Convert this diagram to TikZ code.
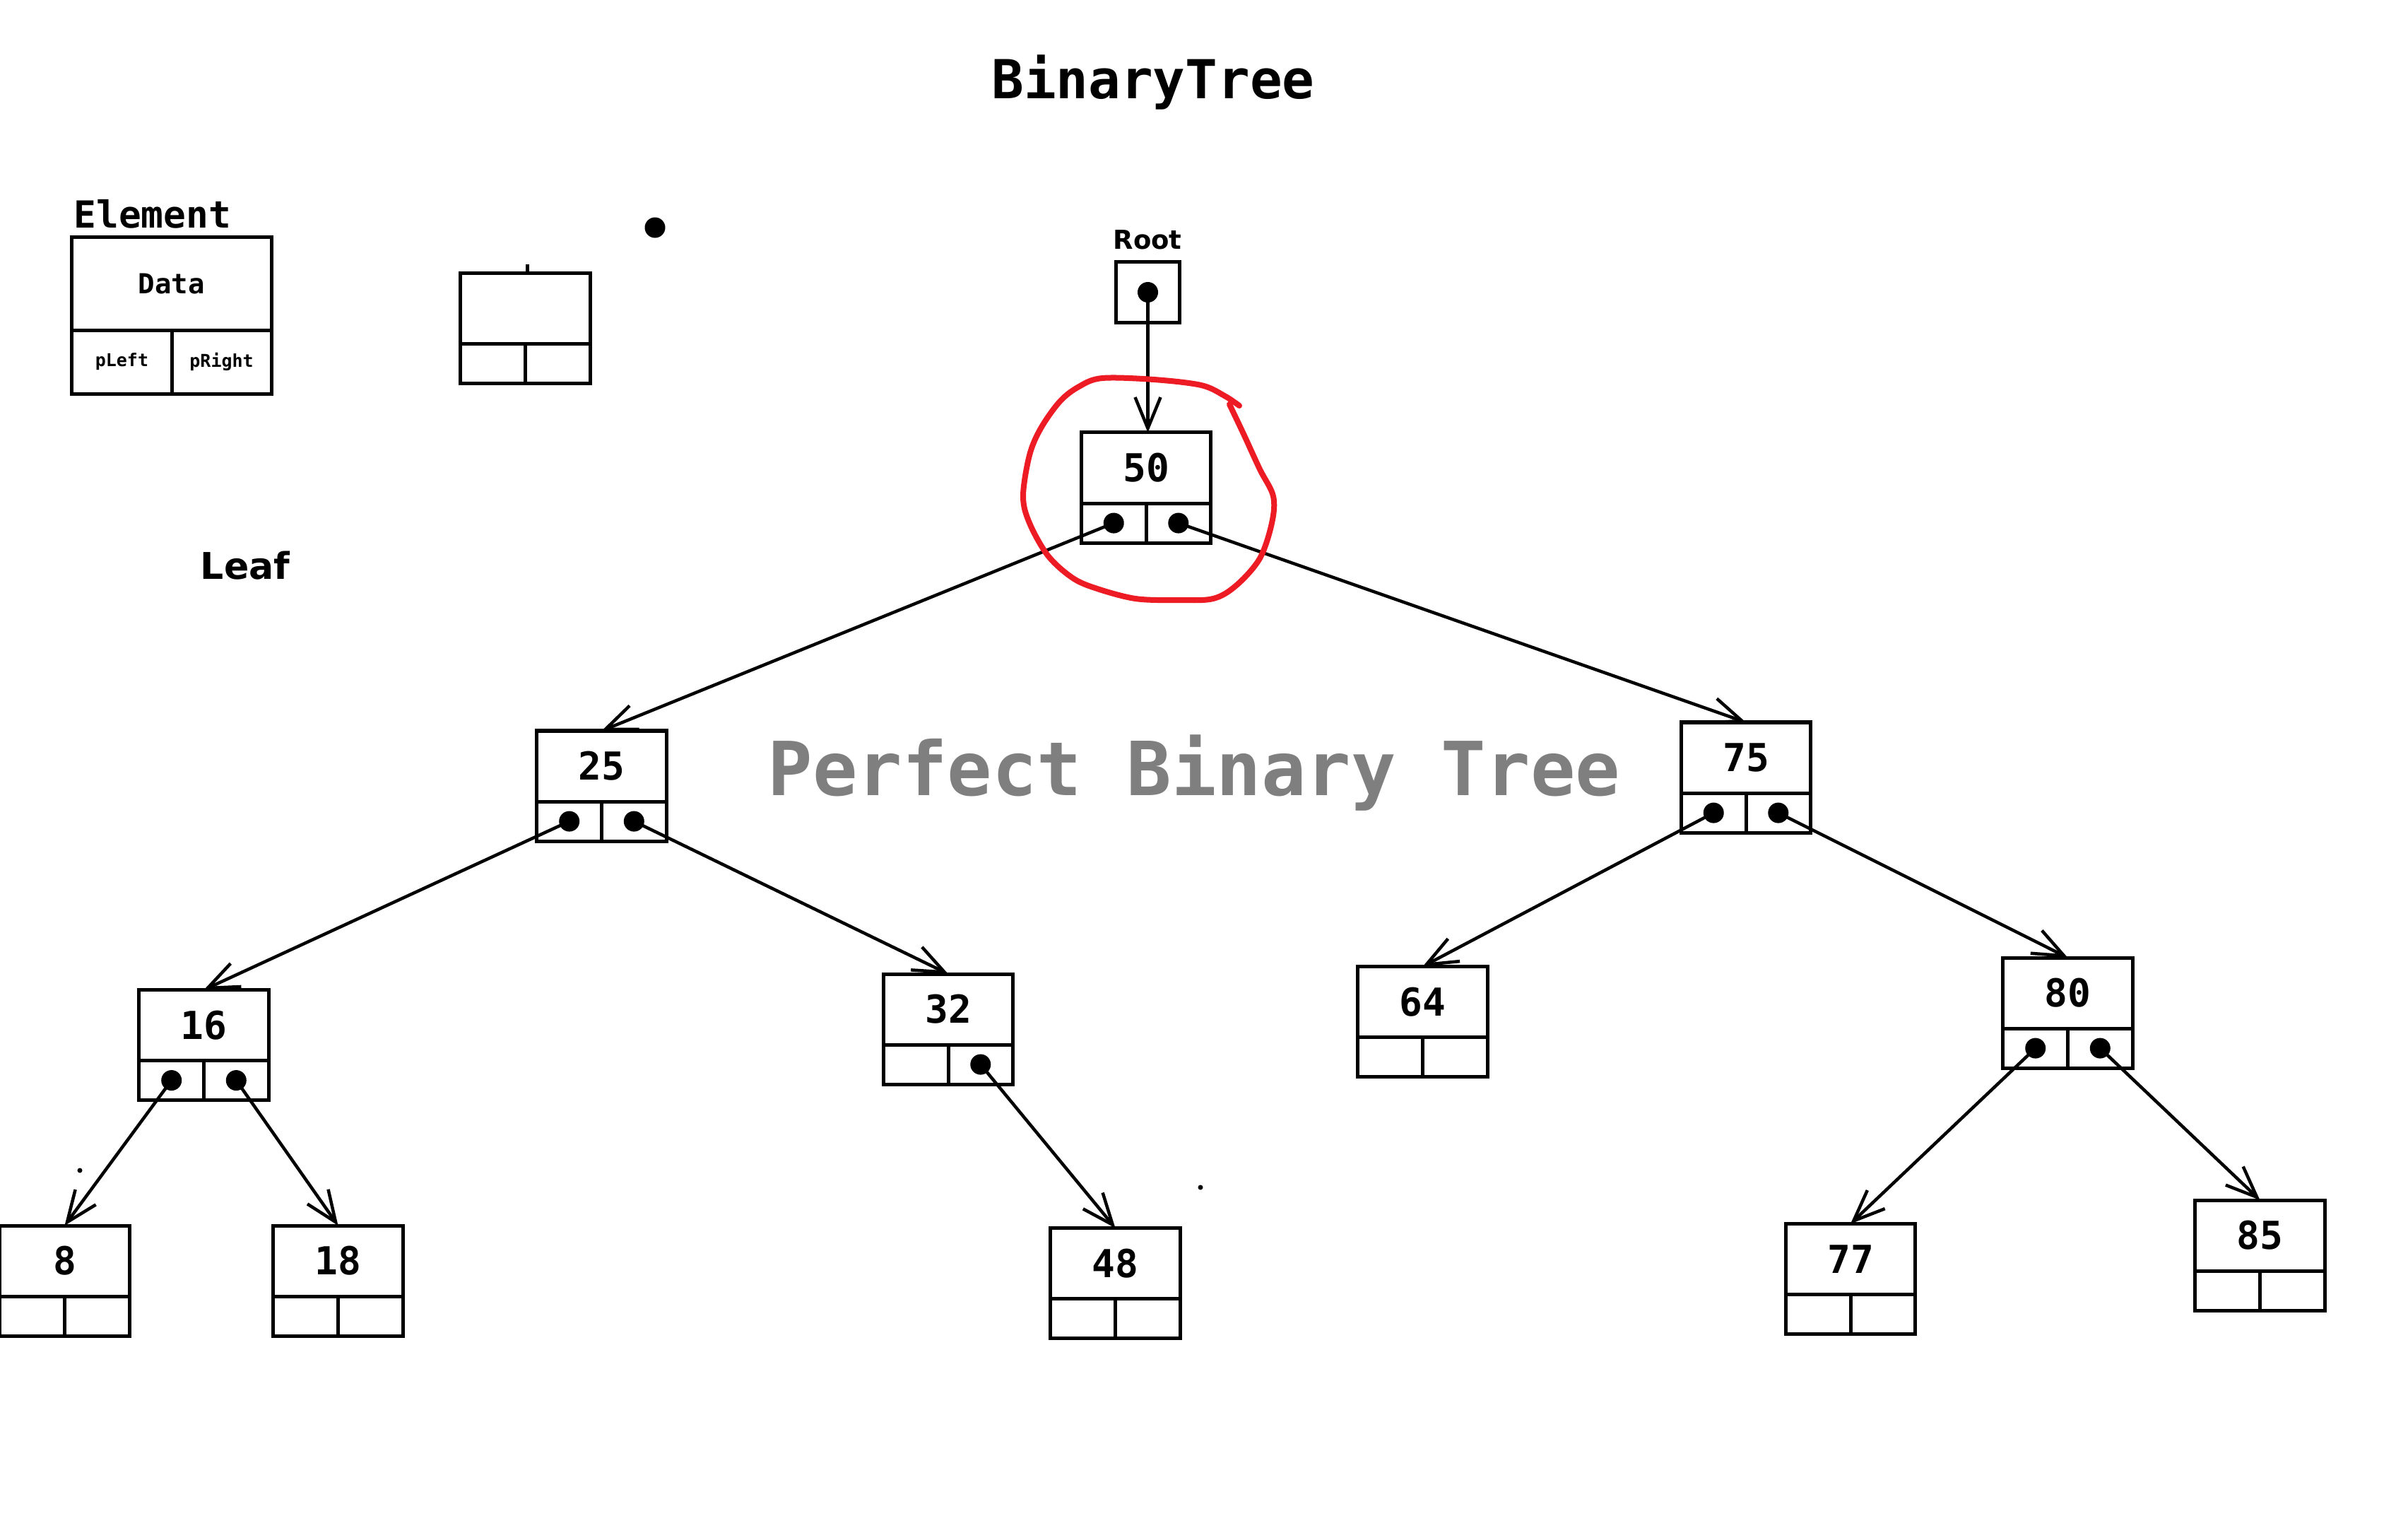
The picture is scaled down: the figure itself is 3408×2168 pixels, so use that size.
\documentclass[tikz,border=0pt]{standalone}
\usepackage{fontspec}
\setmonofont{DejaVu Sans Mono}
\setsansfont{DejaVu Sans}
\usepackage{tikz}
\usetikzlibrary{arrows.meta, positioning}
\definecolor{paintred}{HTML}{ED1C24}
\definecolor{wmark}{HTML}{7F7F7F}
% one tree element: name, centre of data cell, value
\newcommand{\bnode}[3]{%
  \node[cell] (#1) at (#2) {#3};
  \node[ptr, below right=0pt and 0pt of #1.south west] (#1l) {};
  \node[ptr, below left=0pt and 0pt of #1.south east] (#1r) {};
}
\tikzset{
  cell/.style={rectangle, draw, line width=0.05cm, outer sep=0pt, inner sep=0pt, minimum width=1.83cm, minimum height=1.0cm, font=\ttfamily\bfseries\fontsize{15.5}{17}\selectfont},
  ptr/.style={rectangle, draw, line width=0.05cm, outer sep=0pt, inner sep=0pt, minimum width=0.915cm, minimum height=0.56cm},
  pdot/.style={circle, fill, inner sep=0pt, minimum size=0.29cm},
  speck/.style={circle, fill, inner sep=0pt, minimum size=0.07cm},
  link/.style={-{Straight Barb[length=0.44cm, width=0.36cm]}, line width=0.045cm},
  lbl/.style={inner sep=0pt, anchor=base},
}

\begin{document}
\begin{tikzpicture}[x=0.01cm, y=-0.01cm]
\useasboundingbox (0,0) rectangle (3408,2168);
\node[lbl, font=\ttfamily\bfseries\fontsize{21.6}{25}\selectfont] (title) at (1632,139) {BinaryTree};
\node[lbl, text=wmark, font=\ttfamily\bfseries\fontsize{30}{34}\selectfont] (perfect) at (1690,1125) {Perfect Binary Tree};

% legend
\node[lbl, anchor=base west, font=\ttfamily\bfseries\fontsize{15}{17}\selectfont] (elemtitle) at (104,322) {Element};
\node[cell, minimum width=2.82cm, minimum height=1.31cm, font=\ttfamily\bfseries\fontsize{11.1}{13}\selectfont] (elem) at (243,401.5) {Data};
\node[ptr, minimum width=1.41cm, minimum height=0.9cm, below right=0pt and 0pt of elem.south west, font=\ttfamily\bfseries\fontsize{7.1}{8}\selectfont] (eleml) {pLeft};
\node[ptr, minimum width=1.41cm, minimum height=0.9cm, below left=0pt and 0pt of elem.south east, font=\ttfamily\bfseries\fontsize{7.1}{8}\selectfont] (elemr) {pRight};
\bnode{blank}{743.5,436.5}{}
\draw[line width=0.05cm] ([xshift=0.03cm]blank.north) -- +(0,-12);
\node[pdot] (lone) at (927,322) {};
\node[lbl, font=\sffamily\bfseries\fontsize{14.8}{17}\selectfont] (leaf) at (347,819) {Leaf};

% root pointer
\node[lbl, font=\sffamily\bfseries\fontsize{10.5}{12}\selectfont] (rootlbl) at (1624,352) {Root};
\node[ptr, minimum width=0.89cm, minimum height=0.85cm] (root) at (1624.5,413.5) {};
\node[pdot] (droot) at (root) {};

% tree
\bnode{n50}{1622,662}{50}
\bnode{n25}{851.5,1084}{25}
\bnode{n75}{2471,1072}{75}
\bnode{n16}{288.5,1450.5}{16}
\bnode{n32}{1342,1428}{32}
\bnode{n64}{2013.5,1417.5}{64}
\bnode{n80}{2926.5,1405}{80}
\bnode{n8}{91.5,1784}{8}
\bnode{n18}{478.5,1784}{18}
\bnode{n48}{1578.5,1787.5}{48}
\bnode{n77}{2619,1781.5}{77}
\bnode{n85}{3198.5,1748}{85}

\node[pdot] (d50l) at (n50l) {};
\node[pdot] (d50r) at (n50r) {};
\node[pdot] (d25l) at (n25l) {};
\node[pdot] (d25r) at (n25r) {};
\node[pdot] (d75l) at (n75l) {};
\node[pdot] (d75r) at (n75r) {};
\node[pdot] (d16l) at (n16l) {};
\node[pdot] (d16r) at (n16r) {};
\node[pdot] (d32r) at (n32r) {};
\node[pdot] (d80l) at (n80l) {};
\node[pdot] (d80r) at (n80r) {};

\draw[link] (droot.center) -- (droot.center |- n50.north);
\draw[link] (d50l.center) -- (n25.north);
\draw[link] (d50r.center) -- (n75.north);
\draw[link] (d25l.center) -- (n16.north);
\draw[link] (d25r.center) -- (n32.north);
\draw[link] (d75l.center) -- (n64.north);
\draw[link] (d75r.center) -- (n80.north);
\draw[link] (d16l.center) -- (n8.north);
\draw[link] (d16r.center) -- (n18.north);
\draw[link] (d32r.center) -- (n48.north);
\draw[link] (d80l.center) -- (n77.north);
\draw[link] (d80r.center) -- (n85.north);

\node[speck] (speck1) at (113,1656) {};
\node[speck] (speck2) at (1699,1680) {};

% red marker round the root element
\draw[paintred, line width=0.08cm, line cap=round, line join=round] plot[smooth, tension=0.55] coordinates {(1754,574) (1733,560) (1700,545) (1633,537) (1560,535) (1527,547) (1500,568) (1473,606) (1457,644) (1448,702) (1457,740) (1483,786) (1517,817) (1550,832) (1607,847) (1667,849) (1717,847) (1750,828) (1783,790) (1800,740) (1802,702) (1783,664) (1760,614) (1740,572)};
\end{tikzpicture}
\end{document}
